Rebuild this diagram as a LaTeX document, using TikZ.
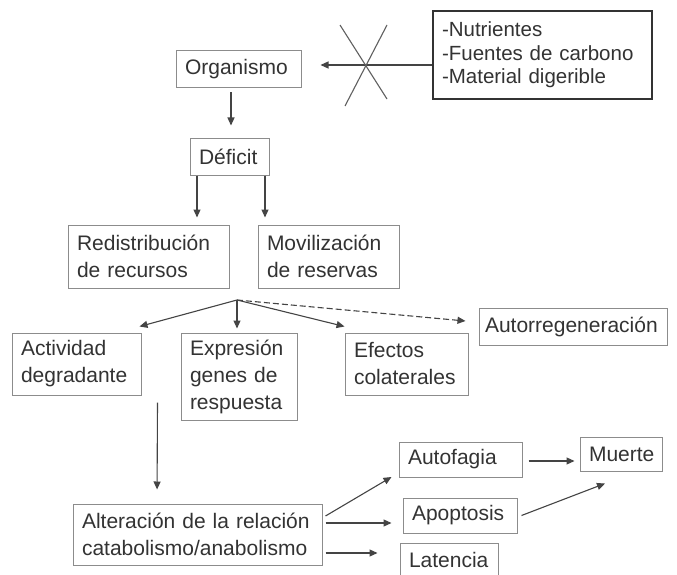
\documentclass[tikz,border=0pt]{standalone}
\usepackage{fontspec}
\setmainfont{Liberation Sans}
\usetikzlibrary{arrows.meta,calc}
\definecolor{txt}{HTML}{333333}
\definecolor{edge}{HTML}{8C8C8C}
\definecolor{ln}{HTML}{444444}
\begin{document}
\begin{tikzpicture}[x=1pt,y=-1pt,
  bx/.style={draw=edge, line width=1pt, text=txt, align=left, inner xsep=9pt, inner ysep=0pt,
             font=\fontsize{21}{27}\selectfont, anchor=center},
  arr/.style={draw=ln, line width=1.1pt, -{Triangle[length=8pt,width=7pt]}},
  dashln/.style={dash pattern=on 6pt off 3pt},
  crossln/.style={draw=ln!85, line width=1.1pt}
  ]
\useasboundingbox (0,0) rectangle (677,575);
\fill[white] (0,0) rectangle (677,575);

% boxes
\node[bx, draw=black!80, line width=1.4pt, minimum width=219pt, minimum height=88pt, text width=201pt,
      font=\fontsize{20.5}{23.5}\selectfont] (nutr) at (542.5,55) {-Nutrientes\\-Fuentes de carbono\\-Material digerible};
\node[bx, minimum width=125pt, minimum height=37pt, text width=107pt] (org) at (238.5,69.5) {Organismo};
\node[bx, minimum width=79pt, minimum height=36pt, text width=61pt] (def) at (229.5,157) {Déficit};
\node[bx, minimum width=161pt, minimum height=63pt, text width=143pt] (redis) at (148.5,256.5) {Redistribución\\de recursos};
\node[bx, minimum width=141pt, minimum height=63pt, text width=123pt] (movil) at (328.5,256.5) {Movilización\\de reservas};
\node[bx, minimum width=129pt, minimum height=62pt, text width=111pt] (activ) at (76.5,364) {Actividad\\degradante};
\node[bx, minimum width=116pt, minimum height=87pt, text width=98pt] (expr) at (239,376.5) {Expresión\\genes de\\respuesta};
\node[bx, minimum width=123pt, minimum height=62pt, text width=105pt] (efect) at (406.5,364) {Efectos\\colaterales};
\node[bx, inner xsep=6pt, minimum width=188pt, minimum height=37pt, text width=176pt] (autor) at (573,326.5) {Autorregeneración};
\node[bx, minimum width=249pt, minimum height=61pt, text width=231pt] (alter) at (197.5,534.5) {Alteración de la relación\\catabolismo/anabolismo};
\node[bx, minimum width=123pt, minimum height=35pt, text width=105pt] (autof) at (460.5,459.5) {Autofagia};
\node[bx, minimum width=82pt, minimum height=34pt, text width=64pt] (muerte) at (621,454) {Muerte};
\node[bx, minimum width=114pt, minimum height=35pt, text width=96pt] (apopt) at (460,515.5) {Apoptosis};
\node[bx, minimum width=98pt, minimum height=34pt, text width=80pt] (laten) at (449,560) {Latencia};

% blocked input
\draw[arr] ([yshift=-10pt]nutr.west) -- ([xshift=19pt,yshift=4.5pt]org.east);
\coordinate (xa) at (340,25);
\coordinate (xb) at (387,99);
\coordinate (xc) at (387,25);
\coordinate (xd) at (345,106);
\draw[crossln] (xa) -- (xb);
\draw[crossln] (xc) -- (xd);

% main flow
\draw[arr, shorten >=13pt, shorten <=4pt] ([xshift=-7.5pt]org.south) -- ([xshift=1.5pt]def.north);
\draw[arr, shorten >=7pt] ([xshift=-32.5pt]def.south) -- ([xshift=48.5pt]redis.north);
\draw[arr, shorten >=7pt] ([xshift=35.5pt]def.south) -- ([xshift=-63.5pt]movil.north);

\coordinate (br) at (237,300);
\draw[arr] (br) -- ([xshift=-2pt,yshift=6pt]activ.north east);
\draw[arr] (br) -- ([xshift=-2pt,yshift=4pt]expr.north);
\draw[arr] (br) -- ([yshift=6pt]efect.north west);
\draw[arr, dashln] (br) -- ([xshift=-13pt,yshift=5.5pt]autor.west);

\draw[arr, shorten >=14pt] ([xshift=16pt,yshift=-7pt]activ.south east) -- ([xshift=-40.5pt]alter.north);

\draw[arr] ([xshift=3pt,yshift=18.5pt]alter.east) -- ([xshift=-7pt,yshift=-17.5pt]autof.west);
\draw[arr] ([xshift=3pt,yshift=11.5pt]alter.east) -- ([xshift=-11pt,yshift=-7.5pt]apopt.west);
\draw[arr] ([xshift=3pt,yshift=-18.5pt]alter.east) -- ([xshift=-22pt,yshift=7pt]laten.west);
\draw[arr] ([xshift=6pt,yshift=-1.5pt]autof.east) -- ([xshift=-5pt,yshift=-7pt]muerte.west);
\draw[arr] ([xshift=4pt]apopt.east) -- ([xshift=-16pt,yshift=-12pt]muerte.south);
\end{tikzpicture}
\end{document}
